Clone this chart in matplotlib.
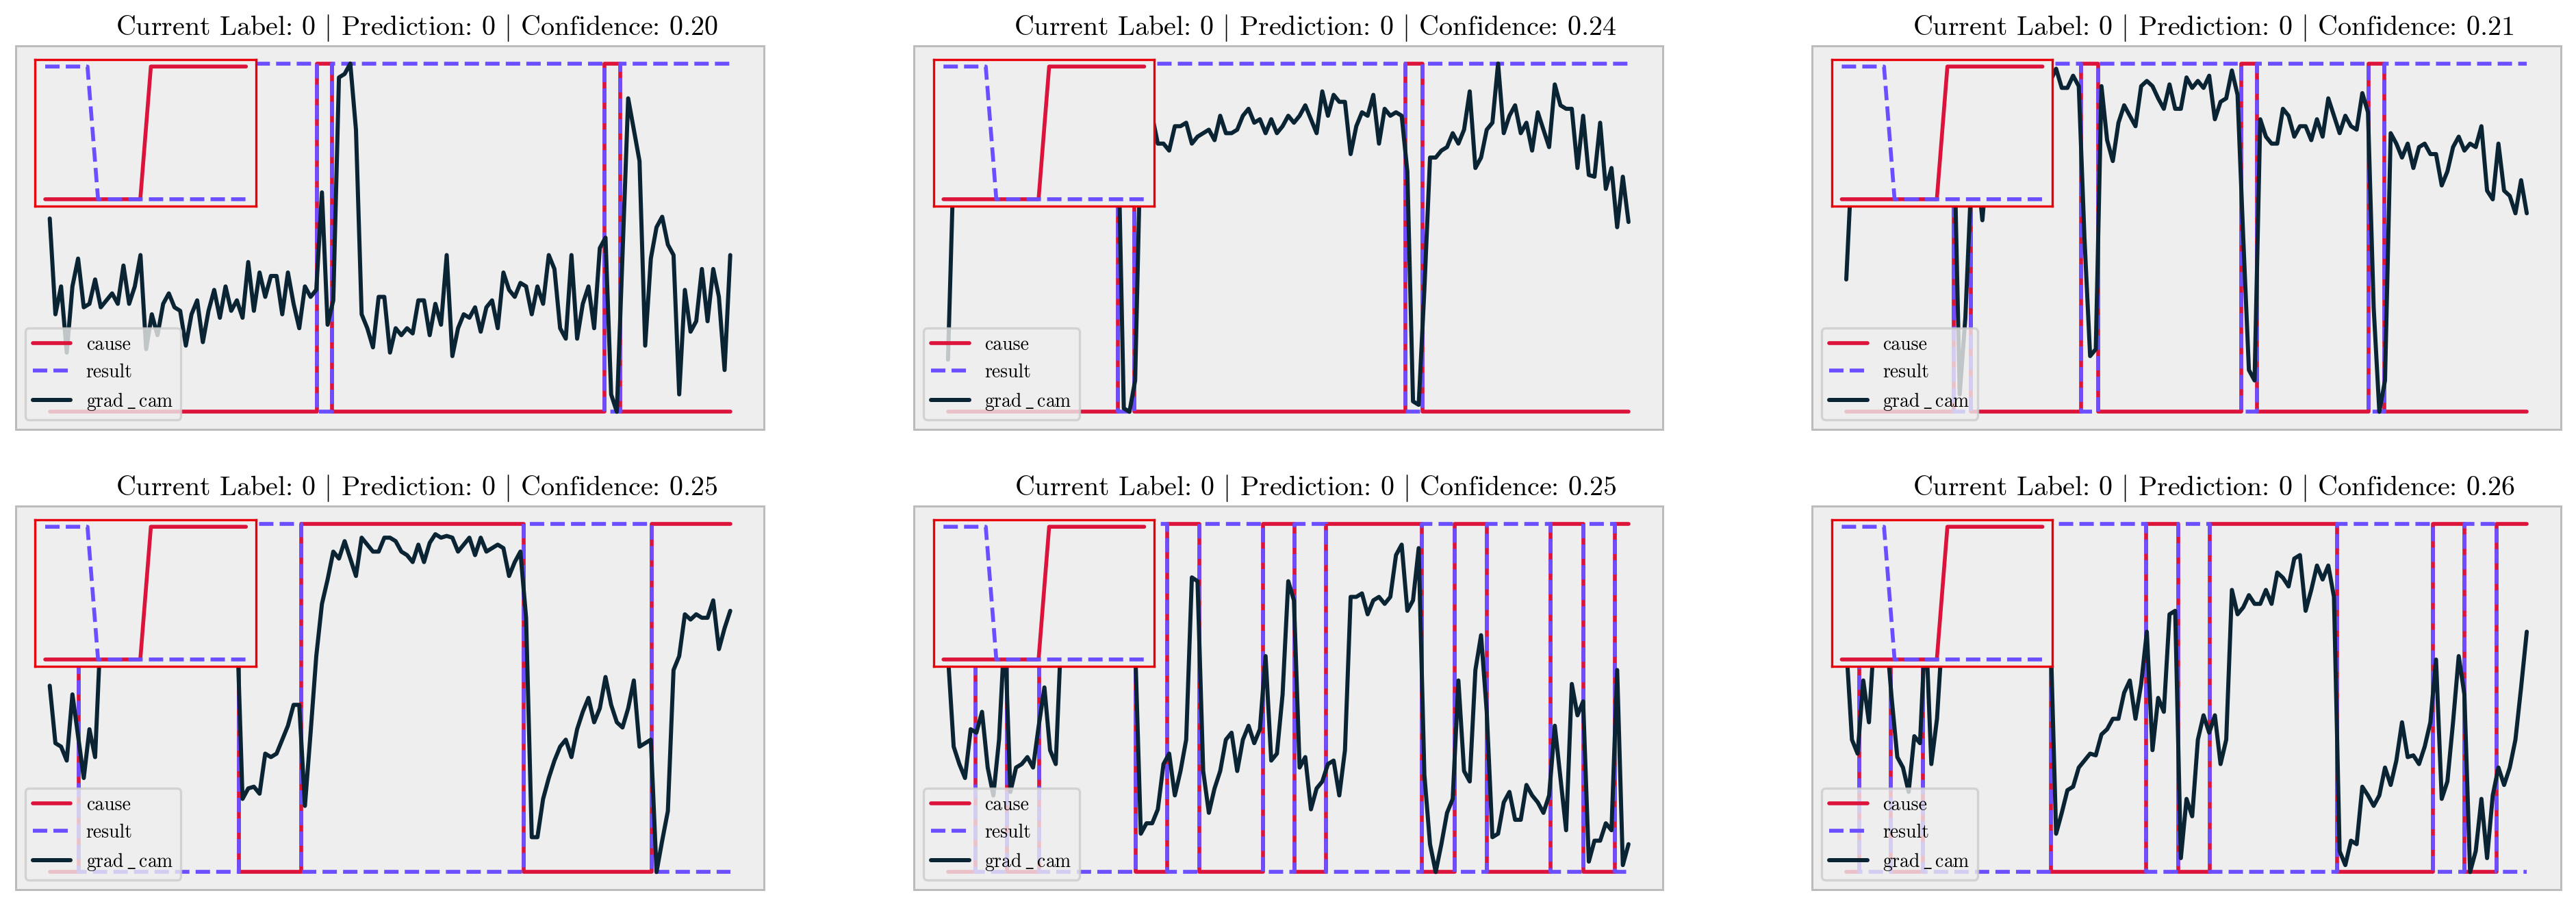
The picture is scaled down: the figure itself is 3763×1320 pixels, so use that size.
import matplotlib.pyplot as plt

plt.rcParams['mathtext.fontset'] = 'cm'
plt.rcParams['font.family'] = 'cmr10'
plt.rcParams['axes.unicode_minus'] = False

# title values per panel
labels = [0, 0, 0, 0, 0, 0]
predictions = [0, 0, 0, 0, 0, 0]
confidences = [0.20, 0.24, 0.21, 0.25, 0.25, 0.26]

# cause / result: value at the start, then the sample positions where both flip
cause_start = [0, 0, 0, 0, 0, 0]
result_start = [1, 1, 1, 1, 1, 1]
switches_1 = [47.1, 49.8, 97.8, 100.6]
switches_2 = [29.9, 32.9, 80.7, 83.7]
switches_3 = [19.0, 22.0, 41.4, 44.4, 69.6, 72.4, 92.1, 94.9]
switches_4 = [5.1, 33.4, 44.4, 83.6, 106.2]
switches_5 = [4.8, 10.4, 16.1, 33.1, 38.6, 44.3, 55.6, 61.1, 66.7, 83.6, 89.3, 95.0, 106.3, 112.0, 117.6]
switches_6 = [2.3, 7.8, 13.5, 36.1, 52.9, 58.5, 64.1, 86.6, 103.5, 109.0, 114.7]

grad_cam_1 = [0.555, 0.28, 0.36, 0.17, 0.36, 0.44, 0.30, 0.31, 0.38, 0.30,
              0.32, 0.34, 0.31, 0.42, 0.31, 0.36, 0.45, 0.18, 0.28, 0.22,
              0.31, 0.34, 0.30, 0.29, 0.19, 0.28, 0.32, 0.20, 0.29, 0.35,
              0.27, 0.36, 0.29, 0.32, 0.27, 0.43, 0.29, 0.40, 0.33, 0.39,
              0.39, 0.28, 0.40, 0.31, 0.24, 0.36, 0.33, 0.35, 0.63, 0.25,
              0.32, 0.96, 0.97, 1.00, 0.81, 0.28, 0.24, 0.185, 0.33, 0.33,
              0.17, 0.24, 0.22, 0.24, 0.225, 0.32, 0.32, 0.22, 0.31, 0.25,
              0.45, 0.16, 0.24, 0.28, 0.27, 0.30, 0.23, 0.30, 0.32, 0.24,
              0.40, 0.35, 0.33, 0.37, 0.36, 0.28, 0.36, 0.31, 0.45, 0.41,
              0.24, 0.21, 0.45, 0.21, 0.31, 0.36, 0.24, 0.47, 0.50, 0.05,
              0.0, 0.45, 0.90, 0.81, 0.72, 0.19, 0.44, 0.53, 0.56, 0.48,
              0.45, 0.05, 0.35, 0.23, 0.26, 0.41, 0.26, 0.41, 0.33, 0.12,
              0.45]
grad_cam_2 = [0.15, 0.72, 0.78, 0.74, 0.80, 0.76, 0.82, 0.75, 0.79, 0.84,
              0.77, 0.81, 0.74, 0.80, 0.86, 0.78, 0.83, 0.76, 0.81, 0.79,
              0.85, 0.77, 0.82, 0.80, 0.87, 0.78, 0.83, 0.81, 0.76, 0.84,
              0.80, 0.01, 0.0, 0.09, 0.80, 0.78,
              0.85, 0.77, 0.77, 0.75, 0.82, 0.82, 0.83, 0.77, 0.79, 0.80,
              0.81, 0.78, 0.85, 0.80, 0.80, 0.81, 0.85, 0.87, 0.83, 0.84,
              0.80, 0.84, 0.80, 0.82, 0.85, 0.83, 0.85, 0.88, 0.84, 0.80,
              0.92, 0.85, 0.91, 0.89, 0.89, 0.74, 0.82, 0.86, 0.85, 0.91,
              0.77, 0.87, 0.85, 0.86, 0.85, 0.69, 0.03, 0.02, 0.35, 0.73,
              0.73, 0.75, 0.76, 0.80, 0.77, 0.81, 0.92, 0.70, 0.73, 0.81,
              0.83, 1.00, 0.80, 0.85, 0.88, 0.80, 0.83, 0.75, 0.86, 0.81,
              0.76, 0.94, 0.88, 0.87, 0.87, 0.70, 0.85, 0.68, 0.675, 0.83,
              0.64, 0.70, 0.53, 0.675, 0.545]
grad_cam_3 = [0.38, 0.72, 0.80, 0.86, 0.83, 0.90, 0.87, 0.92, 0.85, 0.89,
              0.93, 0.88, 0.91, 0.86, 0.90, 0.94, 0.89, 0.92, 0.87, 0.80,
              0.05, 0.27, 0.65, 0.72, 0.55,
              0.75, 0.84, 0.90, 0.87, 0.92, 0.89, 0.94, 0.91, 0.88, 0.93,
              0.90, 0.95,
              0.985, 0.93, 0.93, 0.965, 0.935, 0.5, 0.16, 0.18, 0.935, 0.78,
              0.72, 0.83, 0.88, 0.85, 0.82, 0.935, 0.95, 0.935, 0.90, 0.87,
              0.94, 0.87, 0.87, 0.96, 0.93, 0.95, 0.93, 0.965, 0.84, 0.89,
              0.90, 0.98, 0.91, 0.5, 0.12, 0.09, 0.84, 0.79, 0.77, 0.77,
              0.87, 0.85, 0.79, 0.82, 0.82, 0.78, 0.84, 0.79, 0.90, 0.85,
              0.80, 0.85, 0.82, 0.81, 0.915, 0.86, 0.3, 0.0, 0.09, 0.80,
              0.77, 0.73, 0.77, 0.70, 0.76, 0.77, 0.74, 0.74, 0.65, 0.69,
              0.76, 0.79, 0.75, 0.77, 0.76, 0.82, 0.635, 0.61, 0.77, 0.635,
              0.62, 0.57, 0.665, 0.57]
grad_cam_4 = [0.535, 0.37, 0.36, 0.32, 0.51, 0.39, 0.27, 0.41, 0.33,
              0.70, 0.82, 0.88, 0.85, 0.90, 0.87, 0.92, 0.89, 0.86, 0.91,
              0.88, 0.93, 0.90, 0.87, 0.92, 0.89, 0.94, 0.90, 0.86, 0.91,
              0.88, 0.85, 0.89, 0.80, 0.72,
              0.21, 0.24, 0.245, 0.225, 0.34, 0.33, 0.34, 0.38, 0.42, 0.48,
              0.48, 0.19, 0.40, 0.62, 0.77, 0.84, 0.92, 0.90, 0.95, 0.90,
              0.85, 0.96, 0.94, 0.92, 0.92, 0.96, 0.96, 0.95, 0.92, 0.91,
              0.89, 0.94, 0.89, 0.945, 0.97, 0.96, 0.965, 0.96, 0.92, 0.94,
              0.96, 0.91, 0.96, 0.92, 0.93, 0.94, 0.93, 0.85, 0.89, 0.92,
              0.73, 0.10, 0.10, 0.21, 0.27, 0.32, 0.36, 0.38, 0.33, 0.41,
              0.46, 0.50, 0.43, 0.47, 0.56, 0.48, 0.43, 0.415, 0.47, 0.55,
              0.36, 0.37, 0.38, 0.0, 0.09, 0.175, 0.58, 0.62, 0.74, 0.725,
              0.74, 0.73, 0.73, 0.78, 0.64, 0.70, 0.75]
grad_cam_5 = [0.62, 0.36, 0.31, 0.27, 0.41, 0.40, 0.46, 0.30, 0.22, 0.38,
              0.70, 0.23, 0.30, 0.31, 0.33, 0.30, 0.42, 0.53, 0.35, 0.31,
              0.70, 0.78, 0.82, 0.76, 0.84, 0.80, 0.86, 0.79, 0.83, 0.77,
              0.81, 0.74, 0.70,
              0.65, 0.11, 0.14, 0.14, 0.18, 0.31, 0.34, 0.22, 0.29, 0.38,
              0.846, 0.835, 0.29, 0.17, 0.24, 0.29, 0.38, 0.40, 0.29, 0.38,
              0.42, 0.37, 0.41, 0.62, 0.32, 0.34, 0.51, 0.835, 0.78, 0.30,
              0.33, 0.18, 0.24, 0.26, 0.31, 0.32, 0.22, 0.35, 0.79, 0.79,
              0.80, 0.74, 0.78, 0.79, 0.77, 0.79, 0.91, 0.94, 0.75, 0.78,
              0.93, 0.28, 0.08, 0.0, 0.08, 0.17, 0.21, 0.55, 0.29, 0.26,
              0.58, 0.68, 0.46, 0.10, 0.11, 0.20, 0.23, 0.15, 0.15, 0.25,
              0.22, 0.20, 0.17, 0.22, 0.42, 0.27, 0.12, 0.54, 0.45, 0.49,
              0.03, 0.09, 0.09, 0.14, 0.12, 0.58, 0.02, 0.08]
grad_cam_6 = [0.65, 0.38, 0.34, 0.55, 0.43, 0.70, 0.75, 0.70, 0.50, 0.33,
              0.30, 0.23, 0.39, 0.37, 0.72, 0.31, 0.44, 0.70,
              0.78, 0.84, 0.80, 0.87, 0.83, 0.90, 0.86, 0.82, 0.88, 0.85,
              0.91, 0.87, 0.83, 0.89, 0.86, 0.80, 0.84, 0.76, 0.70,
              0.11, 0.17, 0.235, 0.245, 0.30, 0.32, 0.34, 0.335, 0.395, 0.41,
              0.44, 0.44, 0.515, 0.55, 0.44, 0.54, 0.69, 0.35, 0.50, 0.46,
              0.74, 0.75, 0.04, 0.21, 0.16, 0.38, 0.45, 0.40, 0.45, 0.31,
              0.38, 0.81, 0.74, 0.76, 0.795, 0.77, 0.77, 0.81, 0.77, 0.86,
              0.845, 0.82, 0.90, 0.91, 0.75, 0.81, 0.88, 0.84, 0.88, 0.79,
              0.06, 0.02, 0.09, 0.08, 0.245, 0.22, 0.19, 0.22, 0.30, 0.25,
              0.32, 0.43, 0.33, 0.335, 0.31, 0.36, 0.43, 0.61, 0.21, 0.26,
              0.43, 0.62, 0.51, 0.0, 0.06, 0.21, 0.04, 0.22, 0.30, 0.25,
              0.30, 0.38, 0.53, 0.69]

all_switches = [switches_1, switches_2, switches_3, switches_4, switches_5, switches_6]
all_grad_cam = [grad_cam_1, grad_cam_2, grad_cam_3, grad_cam_4, grad_cam_5, grad_cam_6]

# little sketch in the corner of every panel
inset_cause = [0, 0, 0, 0, 0, 0, 0, 0, 0, 0, 1, 1, 1, 1, 1, 1, 1, 1, 1, 1]
inset_result = [1, 1, 1, 1, 1, 0, 0, 0, 0, 0, 0, 0, 0, 0, 0, 0, 0, 0, 0, 0]

RED = '#dc143c'
BLUE = '#6b4eff'
DARK = '#0b2434'
LW = 1.7


def step_values(start, switches, last):
    xs = [0] + list(switches) + [last]
    ys = []
    s = start
    for _ in range(len(switches) + 1):
        ys.append(s)
        s = 1 - s
    ys.append(ys[-1])
    return xs, ys


fig, axes = plt.subplots(2, 3, figsize=(3763 / 240, 1320 / 240), dpi=240)
fig.subplots_adjust(left=0.0061, right=0.9941, bottom=0.0161, top=0.949,
                    wspace=0.2, hspace=0.2013)

for k, ax in enumerate(axes.flat):
    grad = all_grad_cam[k]
    last = len(grad) - 1
    cx, cy = step_values(cause_start[k], all_switches[k], last)
    rx, ry = step_values(result_start[k], all_switches[k], last)

    ax.set_facecolor('#eeeeee')
    for sp in ax.spines.values():
        sp.set_color('#bcbcbc')
        sp.set_linewidth(0.9)
    ax.step(cx, cy, where='post', color=RED, lw=LW, label='cause',
            solid_capstyle='round')
    ax.step(rx, ry, where='post', color=BLUE, lw=LW, ls='--', label='result')
    ax.plot(range(len(grad)), grad, color=DARK, lw=LW + 0.1,
            label='grad$\\,\\_\\,$cam', solid_capstyle='round')
    ax.set_xticks([])
    ax.set_yticks([])

    title = (f'Current Label: {labels[k]} $|$ Prediction: {predictions[k]} '
             f'$|$ Confidence: {confidences[k]:.2f}')
    ax.set_title(title, fontsize=12, pad=5, x=0.536)

    ax.legend(loc='lower left', fontsize=8.33, fancybox=True, framealpha=0.8,
              facecolor='#eeeeee', edgecolor='#cccccc')

    ins = ax.inset_axes([0.026, 0.583, 0.295, 0.381])
    ins.set_facecolor('#eeeeee')
    ins.plot(range(len(inset_cause)), inset_cause, color=RED, lw=LW,
             solid_capstyle='round')
    ins.plot(range(len(inset_result)), inset_result, color=BLUE, lw=LW, ls='--')
    ins.set_xticks([])
    ins.set_yticks([])
    for sp in ins.spines.values():
        sp.set_color('#e8000b')
        sp.set_linewidth(1.0)

fig.savefig('out.png', dpi=240)
